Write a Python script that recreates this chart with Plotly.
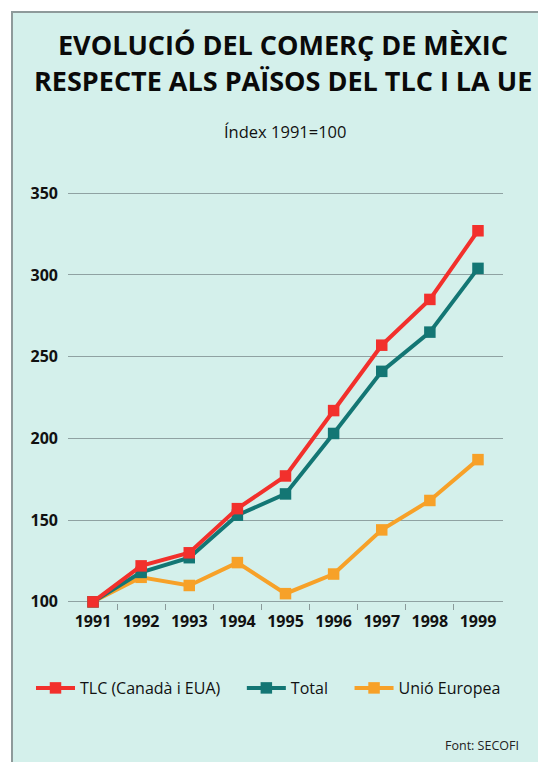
import plotly.graph_objects as go

years = [1991, 1992, 1993, 1994, 1995, 1996, 1997, 1998, 1999]
tlc = [100, 122, 130, 157, 177, 217, 257, 285, 327]
total = [100, 118, 127, 153, 166, 203, 241, 265, 304]
ue = [100, 115, 110, 124, 105, 117, 144, 162, 187]

series_names = ["TLC (Canadà i EUA)", "Total", "Unió Europea"]
legend_pad = ["\u00a0" * 4, "\u00a0" * 4, ""]
colors = ["#f2302c", "#137674", "#f7a128"]

BG = "#d4f0eb"
W, H = 546, 762
OFF = 8  # page body margin shifts the figure by this amount
# plot area in reference (screen) pixels
PL, PR, PT, PB = 68, 503, 185, 610
L, T = PL - OFF, PT - OFF
R, B = W - (PR - OFF), H - (PB - OFF)
pw, ph = PR - PL, PB - PT


def px_x(x):
    return (x - PL) / pw


def px_y(y):
    return (PB - y) / ph


fig = go.Figure()
for vals, name, col, pad in [(ue, series_names[2], colors[2], legend_pad[2]),
                             (total, series_names[1], colors[1], legend_pad[1]),
                             (tlc, series_names[0], colors[0], legend_pad[0])]:
    fig.add_trace(go.Scatter(
        x=years, y=vals, name=name + pad, mode="lines+markers",
        line=dict(color=col, width=4),
        marker=dict(symbol="square", size=11.5, color=col),
        cliponaxis=False,
    ))

fig.update_layout(
    width=W, height=H,
    margin=dict(l=L, r=R, t=T, b=B),
    paper_bgcolor="white",
    plot_bgcolor="rgba(0,0,0,0)",
    font=dict(family="Open Sans", color="#111111"),
    showlegend=True,
    legend=dict(
        orientation="h", traceorder="reversed",
        xref="paper", yref="paper",
        x=px_x(31), y=px_y(688), xanchor="left", yanchor="middle",
        font=dict(size=16, color="#111111"),
        bgcolor="rgba(0,0,0,0)",
        itemwidth=39,
    ),
    xaxis=dict(
        range=[1990.48, 1999.52],
        tickvals=years, ticktext=[str(y) for y in years],
        showgrid=False, zeroline=False, showline=False,
        ticks="",
        tickfont=dict(size=16, color="#111111", weight="bold"),
        minor=dict(ticks="inside", tickvals=[y + 0.5 for y in years[:-1]],
                   ticklen=6, tickcolor="#8a9a9a", tickwidth=1),
    ),
    yaxis=dict(
        range=[95, 355],
        tickvals=[100, 150, 200, 250, 300, 350],
        showgrid=True, gridcolor="#8fa2a2", gridwidth=1,
        zeroline=False, showline=False, ticks="",
        ticklabelstandoff=9,
        tickfont=dict(size=16, color="#111111", weight="bold"),
    ),
    shapes=[
        dict(type="rect", xref="paper", yref="paper",
             x0=px_x(12), x1=px_x(W + 30), y0=px_y(H + 30), y1=px_y(12),
             fillcolor=BG, line=dict(color="#8e9a9a", width=2), layer="below"),
    ],
    annotations=[
        dict(text="<b>EVOLUCIÓ DEL COMERÇ DE MÈXIC</b>", xref="paper", yref="paper",
             x=px_x(283), y=px_y(44), showarrow=False, xanchor="center", yanchor="middle",
             font=dict(size=27, color="#0a0a0a")),
        dict(text="<b>RESPECTE ALS PAÏSOS DEL TLC I LA UE</b>", xref="paper", yref="paper",
             x=px_x(283), y=px_y(80), showarrow=False, xanchor="center", yanchor="middle",
             font=dict(size=27, color="#0a0a0a")),
        dict(text="Índex 1991=100", xref="paper", yref="paper",
             x=px_x(285), y=px_y(131), showarrow=False, xanchor="center", yanchor="middle",
             font=dict(size=16.5, color="#111111")),
        dict(text="Font: SECOFI", xref="paper", yref="paper",
             x=px_x(521), y=px_y(745), showarrow=False, xanchor="right", yanchor="middle",
             font=dict(size=12.5, color="#222222")),
    ],
)

fig.write_html("out.html")
